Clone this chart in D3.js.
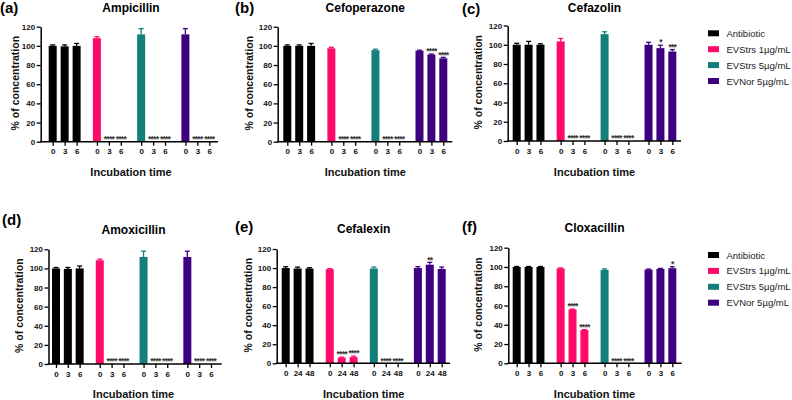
<!DOCTYPE html>
<html><head><meta charset="utf-8">
<script src="https://cdn.jsdelivr.net/npm/d3@7"></script>
<style>
body{margin:0;background:#fff;}
svg{display:block;font-family:"Liberation Sans",Arial,sans-serif;}
</style></head>
<body><svg id="c" width="792" height="400"></svg>
<script>
// ---------- DATA ----------
const seriesNames = ["Antibiotic", "EVStrs 1\u00b5g/mL", "EVStrs 5\u00b5g/mL", "EVNor 5\u00b5g/mL"];
const panelLetters = ["(a)", "(b)", "(c)", "(d)", "(e)", "(f)"];
const panelTitles = ["Ampicillin", "Cefoperazone", "Cefazolin", "Amoxicillin", "Cefalexin", "Cloxacillin"];
const timesShort = ["0", "3", "6"];
const timesLong = ["0", "24", "48"];
const yTicks = [0, 20, 40, 60, 80, 100, 120];

// values: 4 series x 3 time points, flattened
const ampicillinMean = [100, 99.5, 100, 108, 0, 0, 112, 0, 0, 112, 0, 0];
const ampicillinErr  = [1, 1.5, 2.5, 1.5, 0, 0, 6, 0, 0, 6, 0, 0];
const ampicillinSig  = ["", "", "", "", "****", "****", "", "****", "****", "", "****", "****"];

const cefoperazoneMean = [100, 100, 100, 97.5, 0, 0, 95.5, 0, 0, 95, 91, 87];
const cefoperazoneErr  = [1, 1, 2.5, 1, 0, 0, 1, 0, 0, 0.5, 0.5, 1];
const cefoperazoneSig  = ["", "", "", "", "****", "****", "", "****", "****", "", "****", "****"];

const cefazolinMean = [100, 100, 100, 103.5, 0, 0, 111, 0, 0, 100, 96.5, 93];
const cefazolinErr  = [1.5, 3.5, 1, 3, 0, 0, 2.5, 0, 0, 2.5, 3, 2];
const cefazolinSig  = ["", "", "", "", "****", "****", "", "****", "****", "", "*", "***"];

const amoxicillinMean = [100, 99.5, 100, 108.5, 0, 0, 112, 0, 0, 112, 0, 0];
const amoxicillinErr  = [1, 1.5, 2.5, 1.2, 0, 0, 6, 0, 0, 6, 0, 0];
const amoxicillinSig  = ["", "", "", "", "****", "****", "", "****", "****", "", "****", "****"];

const cefalexinMean = [100, 99.5, 99.5, 98.8, 6, 6.5, 99.5, 0, 0, 100, 103.5, 99];
const cefalexinErr  = [1.5, 1.5, 0.8, 0.5, 0.5, 1, 1.5, 0, 0, 1.5, 2.5, 2];
const cefalexinSig  = ["", "", "", "", "****", "****", "", "****", "****", "", "**", ""];

const cloxacillinMean = [100, 100, 100, 98.5, 56, 34.5, 97, 0, 0, 97.3, 98, 98.7];
const cloxacillinErr  = [0.5, 0.5, 0.5, 0.5, 0.3, 0.5, 1, 0, 0, 0.5, 0.5, 1.5];
const cloxacillinSig  = ["", "", "", "", "****", "****", "", "****", "****", "", "", "*"];

const means = [ampicillinMean, cefoperazoneMean, cefazolinMean, amoxicillinMean, cefalexinMean, cloxacillinMean];
const errs = [ampicillinErr, cefoperazoneErr, cefazolinErr, amoxicillinErr, cefalexinErr, cloxacillinErr];
const sigs = [ampicillinSig, cefoperazoneSig, cefazolinSig, amoxicillinSig, cefalexinSig, cloxacillinSig];
const timeSets = [timesShort, timesShort, timesShort, timesShort, timesLong, timesShort];

// ---------- STYLE / LAYOUT ----------
const colors = ["#000000", "#ff0a6a", "#127f78", "#3d0080"];
const layout = [
  {axisX: 40.7, xEnd: 218, first: 52.7, last: 209.3, y0: 141.7, yTop: 26.7, letterX: 0, letterY: 13, titleY: 11.5, xlabY: 176, ylabX: 15},
  {axisX: 277.7, xEnd: 452.3, first: 287.3, last: 443.3, y0: 141.7, yTop: 26.7, letterX: 235, letterY: 13, titleY: 11.5, xlabY: 176, ylabX: 249},
  {axisX: 507.7, xEnd: 681, first: 516.7, last: 672.3, y0: 141, yTop: 25.5, letterX: 462, letterY: 13.5, titleY: 11.5, xlabY: 176, ylabX: 478.3},
  {axisX: 48.5, xEnd: 221.7, first: 56, last: 211, y0: 364, yTop: 249.3, letterX: 2, letterY: 225, titleY: 234, xlabY: 398, ylabX: 19},
  {axisX: 276.7, xEnd: 450, first: 285.7, last: 441.7, y0: 363.3, yTop: 249, letterX: 235, letterY: 232, titleY: 233, xlabY: 398, ylabX: 248},
  {axisX: 508.3, xEnd: 681.7, first: 516.7, last: 672.3, y0: 363.3, yTop: 247.7, letterX: 462, letterY: 232, titleY: 232, xlabY: 398, ylabX: 478}
];
const legends = [{x: 708, y: 33.3}, {x: 708, y: 255}];
const GROUP_STRIDE = 3.7;
const BAR_W = 8;
const FONT = "'Liberation Sans', Arial, sans-serif";

const svg = d3.select("#c");

layout.forEach((L, pi) => {
  const g = svg.append("g");
  const slots = [];
  for (let s = 0; s < 4; s++) for (let t = 0; t < 3; t++) {
    const k = s * 3 + t;
    slots.push({s, t, pos: s * GROUP_STRIDE + t, v: means[pi][k], e: errs[pi][k], sig: sigs[pi][k], lab: timeSets[pi][t]});
  }
  const x = d3.scaleLinear().domain([0, 3 * GROUP_STRIDE + 2]).range([L.first, L.last]);
  const y = d3.scaleLinear().domain([0, 120]).range([L.y0, L.yTop]);

  // bars
  g.selectAll("rect.bar").data(slots.filter(d => d.v > 0)).join("rect")
    .attr("x", d => x(d.pos) - BAR_W / 2).attr("width", BAR_W)
    .attr("y", d => y(d.v)).attr("height", d => y(0) - y(d.v))
    .attr("fill", d => colors[d.s]);

  // error bars (upper only)
  const eb = slots.filter(d => d.v > 0 && d.e > 0);
  g.selectAll("line.ev").data(eb).join("line")
    .attr("x1", d => x(d.pos)).attr("x2", d => x(d.pos))
    .attr("y1", d => y(d.v)).attr("y2", d => y(d.v + d.e))
    .attr("stroke", d => colors[d.s]).attr("stroke-width", 1.3);
  g.selectAll("line.ec").data(eb).join("line")
    .attr("x1", d => x(d.pos) - 2.5).attr("x2", d => x(d.pos) + 2.5)
    .attr("y1", d => y(d.v + d.e)).attr("y2", d => y(d.v + d.e))
    .attr("stroke", d => colors[d.s]).attr("stroke-width", 1.3);

  // significance stars
  g.selectAll("text.sig").data(slots.filter(d => d.sig)).join("text")
    .attr("x", d => x(d.pos)).attr("y", d => y(d.v + d.e) + 0.2)
    .attr("text-anchor", "middle").attr("font-size", 8.5).attr("font-weight", "bold")
    .attr("letter-spacing", -0.75)
    .style("fill", "#333").text(d => d.sig);

  // y axis
  const ya = g.append("g").attr("transform", `translate(${L.axisX},0)`).attr("color", "#000")
    .call(d3.axisLeft(y).tickValues(yTicks).tickSize(4).tickSizeOuter(0).tickPadding(1.5));
  ya.select(".domain").attr("stroke-width", 1.5).attr("stroke", "#000");
  ya.selectAll(".tick line").attr("stroke-width", 1.3).attr("stroke", "#000");
  ya.selectAll("text").attr("font-size", 8).attr("font-weight", "bold").attr("font-family", FONT).style("fill", "#111");

  // x axis
  g.append("line").attr("x1", L.axisX - 0.7).attr("x2", L.xEnd).attr("y1", y(0)).attr("y2", y(0))
    .attr("stroke", "#000").attr("stroke-width", 1.5);
  const xa = g.append("g").attr("transform", `translate(0,${y(0)})`).attr("color", "#000")
    .call(d3.axisBottom(x).tickValues(slots.map(d => d.pos)).tickFormat((d, i) => slots[i].lab).tickSize(4).tickPadding(3));
  xa.select(".domain").remove();
  xa.selectAll(".tick line").attr("stroke-width", 1.3).attr("stroke", "#000");
  xa.selectAll(".tick text").attr("font-size", 8).attr("font-weight", "bold").attr("font-family", FONT).style("fill", "#111");

  // labels
  g.append("text").attr("x", L.letterX).attr("y", L.letterY).attr("font-size", 15).attr("font-weight", "bold").text(panelLetters[pi]);
  g.append("text").attr("x", (L.first + L.last) / 2).attr("y", L.titleY).attr("text-anchor", "middle")
    .attr("font-size", 12).attr("font-weight", "bold").text(panelTitles[pi]);
  g.append("text").attr("x", (L.first + L.last) / 2).attr("y", L.xlabY).attr("text-anchor", "middle")
    .attr("font-size", 11).attr("font-weight", "bold").style("fill", "#111").text("Incubation time");
  g.append("text").attr("transform", `translate(${L.ylabX + 3.5},${(L.y0 + L.yTop) / 2 - 1}) rotate(-90)`)
    .attr("text-anchor", "middle").attr("font-size", 10.5).attr("font-weight", "bold").style("fill", "#111")
    .text("% of concentration");
});

// legends
legends.forEach(Lg => {
  const lg = svg.append("g");
  const rows = lg.selectAll("g").data(seriesNames).join("g")
    .attr("transform", (d, i) => `translate(${Lg.x},${Lg.y + i * 15.9})`);
  rows.append("rect").attr("x", 0).attr("y", -3).attr("width", 11).attr("height", 6).attr("fill", (d, i) => colors[i]);
  rows.append("text").attr("x", 18.5).attr("y", 3.5).attr("font-size", 9.5).style("fill", "#222").text(d => d);
});
</script></body></html>
